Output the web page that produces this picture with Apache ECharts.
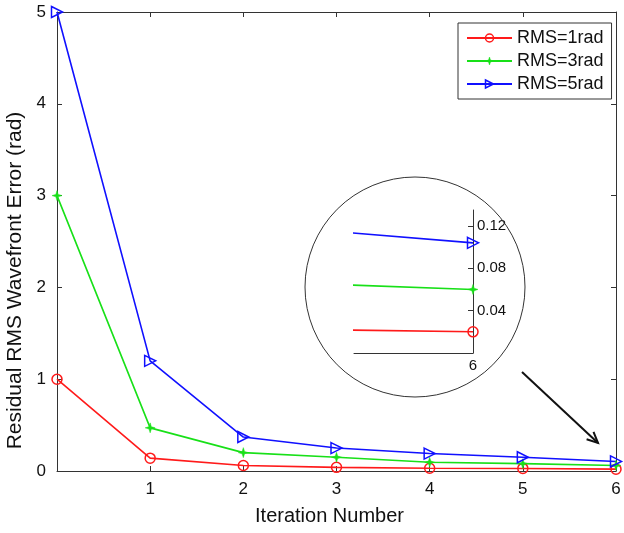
<!DOCTYPE html>
<html>
<head>
<meta charset="utf-8">
<script src="https://cdn.jsdelivr.net/npm/echarts@6/dist/echarts.min.js"></script>
<style>
html, body { margin: 0; padding: 0; background: #fff; }
#main { width: 624px; height: 533px; }
</style>
</head>
<body>
<div id="main"></div>
<script>
// data
var iterations = [0, 1, 2, 3, 4, 5, 6];
var rms1 = [1, 0.14, 0.06, 0.04, 0.03, 0.028, 0.02];
var rms3 = [3, 0.47, 0.2, 0.15, 0.095, 0.08, 0.06];
var rms5 = [5, 1.2, 0.37, 0.25, 0.19, 0.15, 0.104];
var names = ['RMS=1rad', 'RMS=3rad', 'RMS=5rad'];
var insetTicks = [0.04, 0.08, 0.12];

var font = 'Liberation Sans, Arial, sans-serif';
var axisCol = '#333';

function pairs(vals) {
  return iterations.map(function (x, i) { return [x, vals[i]]; });
}

var starPath = 'path://M5,0 L6.2,3.8 L10,5 L6.2,6.2 L5,10 L3.8,6.2 L0,5 L3.8,3.8 Z';
var triPath = 'path://M0,0 L10,5 L0,10 Z';

var styles = [
  { color: '#ff1a1a', symbol: 'circle', size: 10, fill: 'rgba(0,0,0,0)', bw: 1.5 },
  { color: '#18e018', symbol: starPath, size: 10, fill: '#18e018', bw: 0.5 },
  { color: '#1010ff', symbol: triPath, size: 11, fill: 'rgba(0,0,0,0)', bw: 1.5 }
];
var allData = [rms1, rms3, rms5];

function makeSeries(idx, axisIdx, inset) {
  var s = styles[idx];
  return {
    name: names[idx],
    type: 'line',
    xAxisIndex: axisIdx,
    yAxisIndex: axisIdx,
    data: pairs(allData[idx]),
    clip: inset,
    symbol: s.symbol,
    symbolSize: s.size,
    showAllSymbol: true,
    lineStyle: { color: s.color, width: 1.6 },
    itemStyle: { color: s.fill, borderColor: s.color, borderWidth: s.bw },
    emphasis: { disabled: true },
    z: 3
  };
}

var chart = echarts.init(document.getElementById('main'));

var series = [];
for (var i = 0; i < 3; i++) series.push(makeSeries(i, 0, false));
for (var j = 0; j < 3; j++) series.push(makeSeries(j, 2, true));

var legendData = names.map(function (n, k) {
  return {
    name: n,
    itemStyle: { color: styles[k].fill, borderColor: styles[k].color, borderWidth: styles[k].bw }
  };
});

var option = {
  animation: false,
  textStyle: { fontFamily: font },
  legend: {
    data: legendData,
    orient: 'vertical',
    left: 458,
    top: 23,
    backgroundColor: '#fff',
    borderColor: axisCol,
    borderWidth: 1,
    borderRadius: 0,
    padding: [6, 8, 6, 8],
    itemGap: 5,
    itemWidth: 45,
    itemHeight: 10,
    textStyle: { fontFamily: font, fontSize: 18, color: '#111' }
  },
  grid: [
    { left: 57, top: 12, right: 8, bottom: 62, outerBoundsMode: 'none', containLabel: false },
    { left: 57, top: 12, right: 8, bottom: 62, outerBoundsMode: 'none', containLabel: false },
    { left: 354, top: 210, width: 119, height: 143, outerBoundsMode: 'none', containLabel: false }
  ],
  xAxis: [
    {
      type: 'value', gridIndex: 0, min: 0, max: 6, interval: 1,
      name: 'Iteration Number', nameLocation: 'middle', nameGap: 35,
      nameTextStyle: { fontFamily: font, fontSize: 20, color: '#111', padding: [0, 14, 0, 0] },
      axisLine: { onZero: false, lineStyle: { color: axisCol, width: 1 } },
      axisTick: { inside: true, length: 5, lineStyle: { color: axisCol } },
      axisLabel: {
        fontFamily: font, fontSize: 17, color: '#111', margin: 10,
        formatter: function (v) { return v === 0 ? '' : String(v); }
      },
      splitLine: { show: false }
    },
    {
      type: 'value', gridIndex: 1, min: 0, max: 6, interval: 1, position: 'top',
      axisLine: { onZero: false, lineStyle: { color: axisCol, width: 1 } },
      axisTick: { inside: true, length: 5, lineStyle: { color: axisCol } },
      axisLabel: { show: false },
      splitLine: { show: false }
    },
    {
      type: 'value', gridIndex: 2, min: 5.8, max: 6,
      axisLine: { onZero: false, lineStyle: { color: axisCol, width: 1 } },
      axisTick: { show: false },
      axisLabel: {
        fontFamily: font, fontSize: 15, color: '#111', margin: 5,
        showMinLabel: false, showMaxLabel: true,
        formatter: function (v) { return v === 6 ? '6' : ''; }
      },
      splitLine: { show: false }
    }
  ],
  yAxis: [
    {
      type: 'value', gridIndex: 0, min: 0, max: 5, interval: 1,
      name: 'Residual RMS Wavefront Error (rad)', nameLocation: 'middle', nameGap: 30,
      nameTextStyle: { fontFamily: font, fontSize: 21, color: '#111', padding: [0, 78, 0, 0] },
      axisLine: { show: true, onZero: false, lineStyle: { color: axisCol, width: 1 } },
      axisTick: { show: true, inside: true, length: 5, lineStyle: { color: axisCol } },
      axisLabel: { fontFamily: font, fontSize: 17, color: '#111', margin: 11 },
      splitLine: { show: false }
    },
    {
      type: 'value', gridIndex: 1, min: 0, max: 5, interval: 1, position: 'right',
      axisLine: { show: true, onZero: false, lineStyle: { color: axisCol, width: 1 } },
      axisTick: { show: true, inside: true, length: 5, lineStyle: { color: axisCol } },
      axisLabel: { show: false },
      splitLine: { show: false }
    },
    {
      type: 'value', gridIndex: 2, min: 0, max: 0.135, interval: 0.04, position: 'right',
      axisLine: { show: true, onZero: false, lineStyle: { color: axisCol, width: 1 } },
      axisTick: { show: true, inside: true, length: 5, lineStyle: { color: axisCol } },
      axisLabel: {
        fontFamily: font, fontSize: 15, color: '#111', margin: 4,
        showMinLabel: false, showMaxLabel: false,
        formatter: function (v) {
          for (var k = 0; k < insetTicks.length; k++) {
            if (Math.abs(v - insetTicks[k]) < 1e-6) return insetTicks[k].toFixed(2);
          }
          return '';
        }
      },
      splitLine: { show: false }
    }
  ],
  graphic: [
    {
      type: 'circle', shape: { cx: 415, cy: 287, r: 110 },
      style: { fill: 'none', stroke: '#333', lineWidth: 1 }, z: 1
    },
    {
      type: 'line', shape: { x1: 522, y1: 372, x2: 598, y2: 443 },
      style: { stroke: '#111', lineWidth: 2 }, z: 5
    },
    {
      type: 'polyline', shape: { points: [[593.5, 431.9], [598, 443], [586.6, 439.3]] },
      style: { stroke: '#111', lineWidth: 2, fill: 'none' }, z: 5
    }
  ],
  series: series
};

chart.setOption(option);
</script>
</body>
</html>
